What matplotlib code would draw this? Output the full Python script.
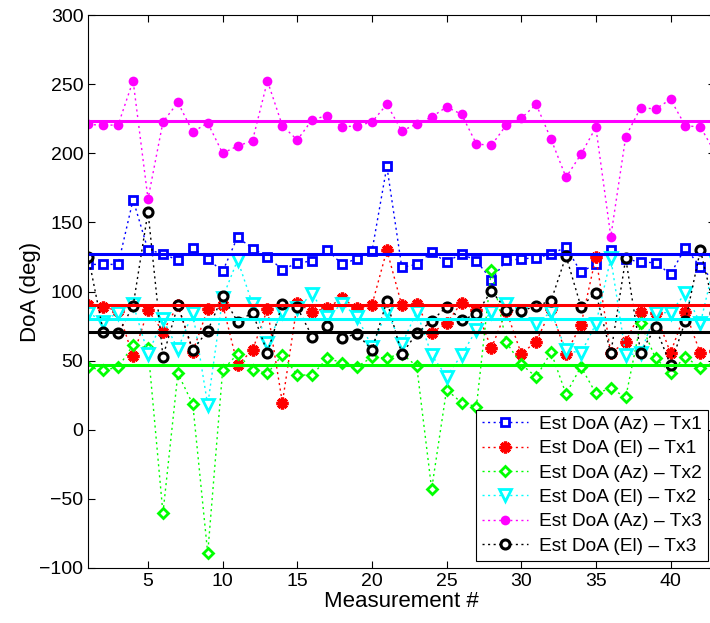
import numpy as np
import matplotlib
matplotlib.use('Agg')
from matplotlib import pyplot as plt

plt.rcParams['font.family'] = ['Liberation Sans', 'DejaVu Sans']

# measurement index
meas = np.arange(1, 44)

# estimated DoA values
az_tx1 = [119.6, 119.6, 119.6, 166.4, 130.0, 127.4, 122.5, 131.7, 123.5, 114.6,
          139.4, 131.0, 125.2, 115.8, 120.6, 122.1, 130.3, 119.6, 123.8, 129.0,
          190.5, 117.5, 119.6, 128.3, 121.3, 127.4, 122.1, 108.6, 122.5, 123.5,
          124.5, 126.9, 132.2, 113.9, 120.1, 130.3, 123.5, 121.3, 120.8, 112.6,
          131.7, 117.7, 107.0]
el_tx1 = [90.0, 89.0, 86.0, 53.0, 86.6, 71.0, 90.0, 56.5, 87.3, 90.5,
          46.8, 57.7, 87.1, 19.5, 91.4, 85.4, 88.0, 95.2, 87.8, 90.2,
          130.0, 90.0, 91.0, 70.2, 77.0, 91.9, 86.6, 59.0, 86.0, 55.0,
          63.7, 87.0, 55.0, 75.8, 125.2, 55.3, 63.7, 85.4, 84.5, 55.5,
          85.2, 55.3, 57.0]
az_tx2 = [45.1, 43.2, 45.1, 61.3, 58.9, -60.5, 40.8, 18.4, -89.4, 43.2,
          54.8, 43.2, 40.8, 54.1, 39.6, 39.6, 51.7, 48.5, 45.6, 52.4,
          52.0, 55.0, 46.0, -42.9, 29.0, 19.6, 16.7, 115.5, 63.3, 47.4,
          38.2, 56.0, 25.9, 45.6, 26.3, 30.0, 23.4, 77.0, 51.7, 41.3,
          52.9, 44.5, 47.5]
el_tx2 = [84.7, 78.2, 84.7, 91.0, 54.8, 79.9, 58.4, 84.7, 17.9, 95.5,
          122.8, 91.0, 63.0, 85.5, 88.0, 98.2, 81.5, 91.2, 81.8, 60.1,
          85.8, 61.7, 85.4, 54.1, 38.4, 54.1, 72.2, 85.4, 91.0, 86.1,
          76.5, 85.4, 57.7, 55.3, 76.5, 124.0, 54.1, 55.3, 84.7, 84.7,
          98.8, 77.0, 123.0]
az_tx3 = [220.9, 220.2, 220.5, 252.5, 166.9, 222.6, 236.8, 215.4, 221.9, 200.0,
          205.2, 209.1, 252.3, 219.9, 209.6, 224.3, 227.2, 219.2, 219.7, 222.6,
          235.4, 216.1, 221.2, 226.2, 233.5, 228.2, 206.7, 205.7, 220.4, 225.3,
          235.4, 210.1, 182.6, 199.2, 218.7, 139.7, 212.0, 233.0, 232.0, 239.0,
          219.7, 219.2, 200.0]
el_tx3 = [125.2, 71.0, 69.7, 89.5, 157.8, 52.9, 90.0, 57.7, 71.7, 96.7,
          78.2, 84.7, 55.8, 91.0, 88.5, 67.3, 75.3, 66.6, 69.3, 57.7,
          93.1, 54.8, 69.7, 78.7, 89.0, 79.4, 83.5, 100.6, 86.6, 85.9,
          89.5, 93.3, 125.7, 89.0, 99.1, 55.3, 124.0, 55.8, 74.1, 46.8,
          78.9, 130.0, 84.7]

# reference (solid) levels
ref_levels = [127.1, 90.0, 46.8, 79.9, 223.0, 70.9]

labels = ['Est DoA (Az) \u2013 Tx1', 'Est DoA (El) \u2013 Tx1',
          'Est DoA (Az) \u2013 Tx2', 'Est DoA (El) \u2013 Tx2',
          'Est DoA (Az) \u2013 Tx3', 'Est DoA (El) \u2013 Tx3']
colors = ['#0000ff', '#ff0000', '#00ff00', '#00ffff', '#ff00ff', '#000000']

fig = plt.figure(figsize=(7.10, 6.23), dpi=100)
ax = fig.add_axes([88.3 / 710, 55 / 623, 627 / 710, 553 / 623])

series = [az_tx1, el_tx1, az_tx2, el_tx2, az_tx3, el_tx3]
styles = [
    dict(marker='s', ms=5.5, mew=2.0, mfc='white'),
    dict(marker=(8, 2, 0), ms=8.5, mew=2.4),
    dict(marker='D', ms=5.5, mew=2.0, mfc='white'),
    dict(marker='v', ms=8, mew=2.0, mfc='white'),
    dict(marker='o', ms=7, mew=0),
    dict(marker='o', ms=6.5, mew=2.2, mfc='white'),
]

for vals, lab, col, st in zip(series, labels, colors, styles):
    ax.plot(meas, vals, linestyle=(0, (1.5, 2.5)), lw=1.0, color=col,
            mec=col, label=lab, **st)

for lev, col in zip(ref_levels, colors):
    ax.axhline(lev, color=col, lw=2.2)

ax.set_xlim(1, 43)
ax.set_ylim(-100, 300)
ax.set_xticks([5, 10, 15, 20, 25, 30, 35, 40])
ax.set_yticks(np.arange(-100, 301, 50))
ax.tick_params(direction='in', top=True, right=True, length=5,
               labelsize=14, width=0.8)
for sp in ax.spines.values():
    sp.set_linewidth(0.8)

ax.set_xlabel('Measurement #', fontsize=16, labelpad=1)
ax.set_ylabel('DoA (deg)', fontsize=16, labelpad=-1)

leg = ax.legend(loc='upper left', bbox_to_anchor=(476 / 710, 1 - 410 / 623),
                bbox_transform=fig.transFigure, borderaxespad=0,
                fontsize=13.8, numpoints=1, handlelength=2.4,
                handletextpad=0.6, labelspacing=0.36, borderpad=0.3,
                fancybox=False, framealpha=1)
leg.get_frame().set_edgecolor('black')
leg.get_frame().set_linewidth(0.8)

fig.savefig('out.png', dpi=100)
